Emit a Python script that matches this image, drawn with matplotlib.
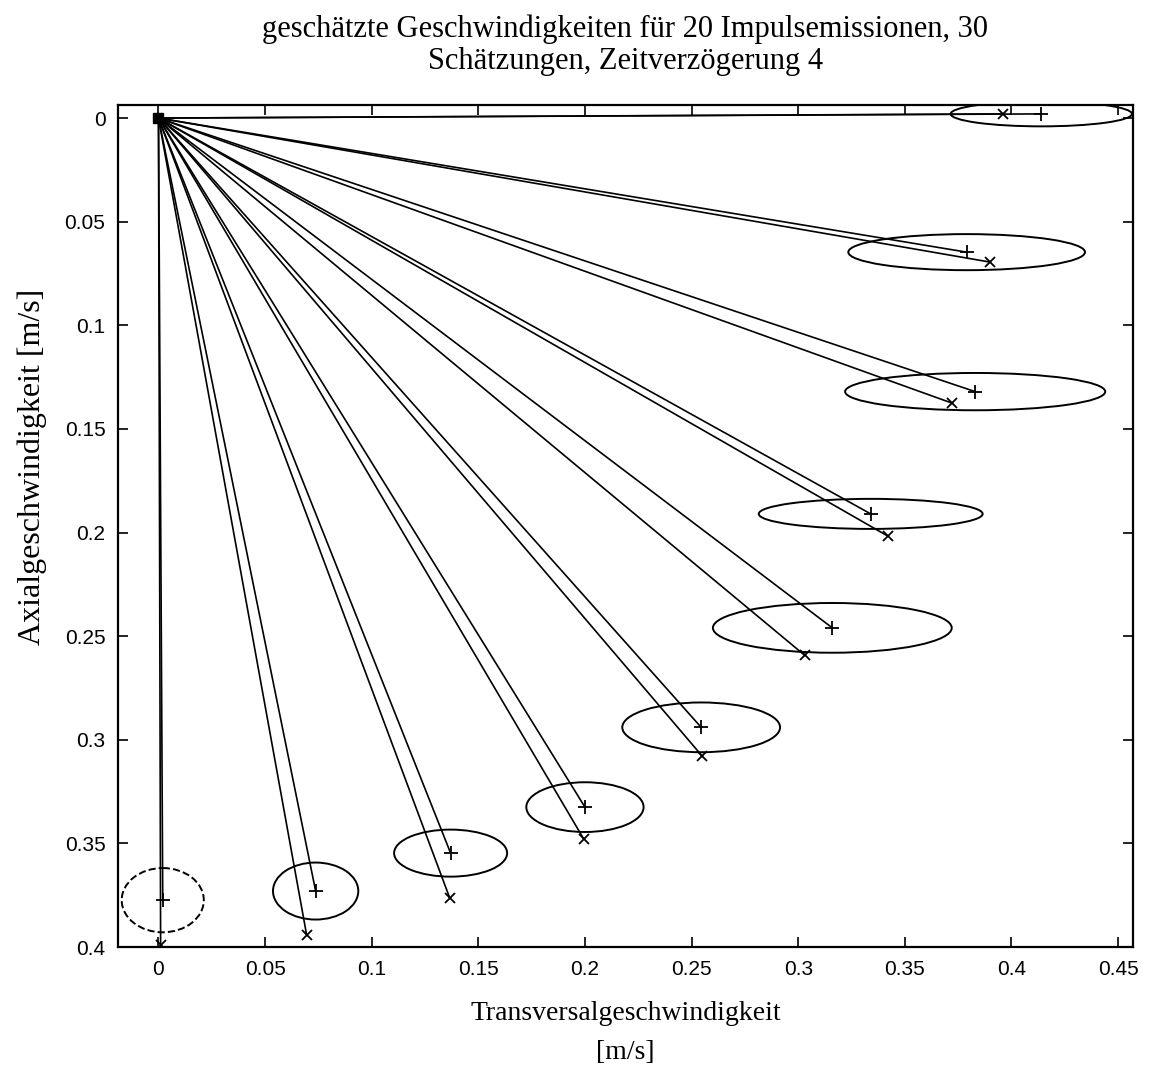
import numpy
import matplotlib
matplotlib.use("Agg")
import matplotlib.pyplot as plt
from matplotlib.patches import Ellipse

# wahre Geschwindigkeiten (+), transversal / axial in m/s
true_vx = [0.414, 0.379, 0.383, 0.334, 0.316, 0.2545, 0.200, 0.137, 0.0737, 0.002]
true_vz = [-0.002, 0.0647, 0.132, 0.191, 0.246, 0.294, 0.3325, 0.3547, 0.373, 0.3774]
# geschaetzte Geschwindigkeiten (x)
est_vx = [0.396, 0.390, 0.372, 0.342, 0.303, 0.255, 0.1995, 0.1366, 0.0695, 0.001]
est_vz = [-0.002, 0.0695, 0.1375, 0.2017, 0.2592, 0.3079, 0.348, 0.3764, 0.3943, 0.399]
# Streuellipsen um die wahren Werte
ell_w = [0.085, 0.111, 0.122, 0.105, 0.112, 0.074, 0.055, 0.053, 0.040, 0.0385]
ell_h = [0.012, 0.0174, 0.018, 0.0145, 0.024, 0.024, 0.024, 0.0227, 0.0275, 0.031]

xticks = [0, 0.05, 0.1, 0.15, 0.2, 0.25, 0.3, 0.35, 0.4, 0.45]
xtick_labels = ["0", "0.05", "0.1", "0.15", "0.2", "0.25", "0.3", "0.35", "0.4", "0.45"]
yticks = [0, 0.05, 0.1, 0.15, 0.2, 0.25, 0.3, 0.35, 0.4]
ytick_labels = ["0", "0.05", "0.1", "0.15", "0.2", "0.25", "0.3", "0.35", "0.4"]

serif = "Liberation Serif"
sans = "Liberation Sans"

fig = plt.figure(figsize=(11.6, 10.77), dpi=100)
ax = fig.add_axes([0.1017, 0.1207, 0.875, 0.7818])

for i in range(len(true_vx)):
    ax.plot([0, true_vx[i]], [0, true_vz[i]], color="black", lw=1.2)
    ax.plot([0, est_vx[i]], [0, est_vz[i]], color="black", lw=1.2)
    ls = "--" if i == len(true_vx) - 1 else "-"
    e = Ellipse((true_vx[i], true_vz[i]), ell_w[i], ell_h[i], fill=False,
                edgecolor="black", lw=1.4, linestyle=ls)
    ax.add_patch(e)

ax.plot(true_vx, true_vz, "+", color="black", ms=10, mew=1.3)
ax.plot(est_vx, est_vz, "x", color="black", ms=7, mew=1.3)
ax.plot([0], [0], "s", color="black", ms=7)

ax.set_xlim(-0.019, 0.457)
ax.set_ylim(0.4, -0.0063)
ax.set_xticks(xticks)
ax.set_xticklabels(xtick_labels, family=sans, fontsize=15)
ax.set_yticks(yticks)
ax.set_yticklabels(ytick_labels, family=sans, fontsize=15)
ax.tick_params(direction="in", length=7, width=1.2, top=True, right=True, pad=9)
for s in ax.spines.values():
    s.set_linewidth(1.6)

ax.set_title("geschätzte Geschwindigkeiten für 20 Impulsemissionen, 30\nSchätzungen, Zeitverzögerung 4",
             family=serif, fontsize=22, pad=26, linespacing=1.15)
ax.set_xlabel("Transversalgeschwindigkeit\n[m/s]", family=serif, fontsize=20, linespacing=1.75, labelpad=16)
ax.set_ylabel("Axialgeschwindigkeit [m/s]", family=serif, fontsize=23)
ax.yaxis.set_label_coords(-0.07, 0.57)

fig.savefig("out.png", dpi=100)
